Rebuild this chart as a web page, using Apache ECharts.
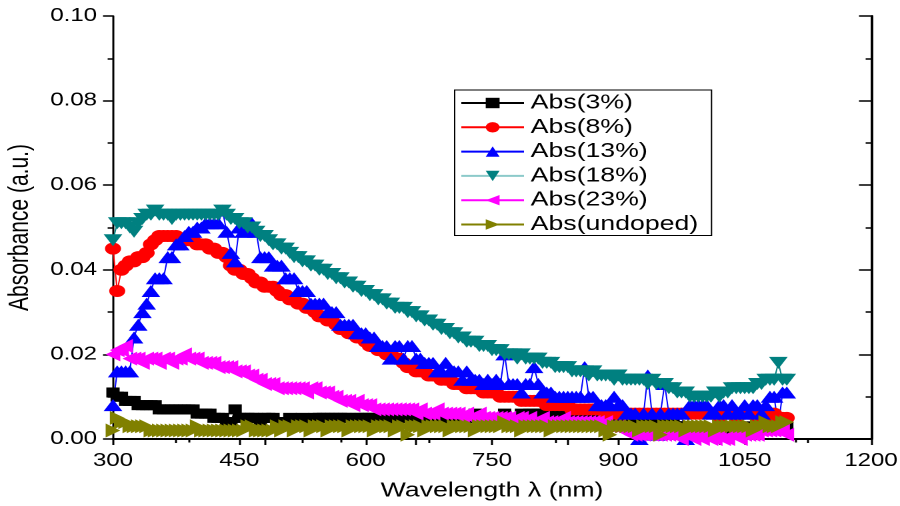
<!DOCTYPE html>
<html>
<head>
<meta charset="utf-8">
<script src="https://cdn.jsdelivr.net/npm/echarts@6.0.0/dist/echarts.min.js"></script>
<style>
  html, body { margin: 0; padding: 0; background: #fff; overflow: hidden; width: 900px; height: 506px; }
  /* chart is laid out at 675px and widened to the 900px page */
  #chart { width: 675px; height: 506px; transform: scaleX(1.3333333); transform-origin: 0 0; }
</style>
</head>
<body>
<div id="chart"></div>
<script>
// Wavelength grid of the spectra (nm), 5 nm sampling from 300 to 1100
const wavelength = [];
for (let w = 300; w <= 1100; w += 5) wavelength.push(w);

// Absorbance (a.u.), one value per wavelength
const abs3 = [
  0.011, 0.010, 0.010, 0.009, 0.009, 0.009, 0.008, 0.008, 0.008, 0.008,
  0.008, 0.007, 0.007, 0.007, 0.007, 0.007, 0.007, 0.007, 0.007, 0.007,
  0.006, 0.006, 0.006, 0.006, 0.005, 0.005, 0.005, 0.004, 0.004, 0.007,
  0.005, 0.005, 0.005, 0.005, 0.005, 0.004, 0.005, 0.005, 0.005, 0.004,
  0.004, 0.004, 0.005, 0.004, 0.004, 0.005, 0.004, 0.004, 0.005, 0.005,
  0.005, 0.005, 0.005, 0.005, 0.005, 0.005, 0.005, 0.004, 0.005, 0.005,
  0.005, 0.005, 0.005, 0.004, 0.005, 0.005, 0.004, 0.005, 0.005, 0.005,
  0.005, 0.005, 0.004, 0.005, 0.005, 0.005, 0.005, 0.005, 0.004, 0.005,
  0.005, 0.005, 0.005, 0.005, 0.005, 0.005, 0.006, 0.005, 0.005, 0.005,
  0.005, 0.005, 0.005, 0.006, 0.005, 0.005, 0.005, 0.006, 0.005, 0.006,
  0.006, 0.006, 0.006, 0.005, 0.006, 0.006, 0.006, 0.006, 0.006, 0.006,
  0.006, 0.006, 0.006, 0.006, 0.006, 0.005, 0.006, 0.006, 0.005, 0.005,
  0.005, 0.005, 0.005, 0.005, 0.004, 0.004, 0.005, 0.004, 0.004, 0.004,
  0.004, 0.004, 0.003, 0.004, 0.003, 0.003, 0.003, 0.002, 0.002, 0.001,
  0.001, 0.001, 0.001, 0.001, 0.001, 0.001, 0.002, 0.002, 0.002, 0.002,
  0.002, 0.003, 0.002, 0.002, 0.003, 0.003, 0.003, 0.003, 0.003, 0.005,
  0.003
];
const abs8 = [
  0.045, 0.035, 0.040, 0.041, 0.042, 0.042, 0.043, 0.043, 0.044, 0.046,
  0.047, 0.048, 0.048, 0.048, 0.048, 0.048, 0.047, 0.047, 0.047, 0.047,
  0.046, 0.046, 0.046, 0.045, 0.045, 0.044, 0.044, 0.043, 0.041, 0.040,
  0.040, 0.039, 0.039, 0.038, 0.037, 0.037, 0.036, 0.036, 0.036, 0.035,
  0.034, 0.034, 0.033, 0.033, 0.032, 0.032, 0.031, 0.031, 0.030, 0.029,
  0.029, 0.028, 0.028, 0.027, 0.026, 0.026, 0.025, 0.025, 0.024, 0.024,
  0.023, 0.022, 0.022, 0.021, 0.021, 0.020, 0.020, 0.019, 0.019, 0.018,
  0.017, 0.017, 0.016, 0.016, 0.016, 0.015, 0.015, 0.015, 0.014, 0.014,
  0.014, 0.013, 0.013, 0.013, 0.012, 0.012, 0.012, 0.012, 0.011, 0.011,
  0.011, 0.011, 0.010, 0.010, 0.010, 0.010, 0.010, 0.009, 0.009, 0.009,
  0.009, 0.009, 0.009, 0.008, 0.008, 0.008, 0.008, 0.008, 0.008, 0.007,
  0.007, 0.007, 0.007, 0.007, 0.007, 0.007, 0.007, 0.006, 0.007, 0.006,
  0.006, 0.006, 0.006, 0.006, 0.006, 0.006, 0.006, 0.006, 0.006, 0.006,
  0.006, 0.006, 0.006, 0.006, 0.006, 0.006, 0.006, 0.006, 0.006, 0.006,
  0.006, 0.006, 0.006, 0.006, 0.005, 0.006, 0.006, 0.006, 0.005, 0.006,
  0.006, 0.006, 0.006, 0.005, 0.006, 0.006, 0.005, 0.006, 0.005, 0.005,
  0.005
];
const abs13 = [
  0.008, 0.016, 0.016, 0.016, 0.016, 0.024, 0.027, 0.030, 0.032, 0.035,
  0.038, 0.038, 0.038, 0.043, 0.043, 0.046, 0.046, 0.048, 0.049, 0.049,
  0.050, 0.050, 0.051, 0.051, 0.051, 0.051, 0.054, 0.049, 0.044, 0.042,
  0.050, 0.049, 0.049, 0.051, 0.049, 0.043, 0.043, 0.043, 0.041, 0.041,
  0.041, 0.038, 0.038, 0.038, 0.035, 0.035, 0.035, 0.032, 0.032, 0.032,
  0.032, 0.030, 0.030, 0.030, 0.027, 0.027, 0.027, 0.027, 0.025, 0.025,
  0.025, 0.024, 0.024, 0.022, 0.022, 0.022, 0.019, 0.022, 0.022, 0.019,
  0.022, 0.022, 0.019, 0.019, 0.018, 0.018, 0.018, 0.016, 0.016, 0.018,
  0.016, 0.016, 0.016, 0.014, 0.016, 0.014, 0.014, 0.014, 0.013, 0.014,
  0.013, 0.014, 0.013, 0.020, 0.013, 0.013, 0.013, 0.011, 0.013, 0.013,
  0.017, 0.013, 0.011, 0.011, 0.011, 0.010, 0.010, 0.010, 0.010, 0.010,
  0.010, 0.010, 0.017, 0.010, 0.010, 0.008, 0.008, 0.008, 0.008, 0.010,
  0.008, 0.008, 0.006, 0.006, 0.006, 0.000, 0.006, 0.015, 0.006, 0.001,
  0.006, 0.013, 0.006, 0.006, 0.006, 0.006, 0.000, 0.008, 0.008, 0.008,
  0.008, 0.008, 0.006, 0.006, 0.008, 0.008, 0.006, 0.008, 0.006, 0.006,
  0.008, 0.006, 0.008, 0.008, 0.006, 0.008, 0.010, 0.010, 0.003, 0.011,
  0.011
];
const abs18 = [
  0.047, 0.051, 0.051, 0.051, 0.050, 0.049, 0.051, 0.052, 0.053, 0.053,
  0.054, 0.053, 0.053, 0.053, 0.052, 0.053, 0.053, 0.053, 0.053, 0.053,
  0.053, 0.053, 0.053, 0.053, 0.053, 0.053, 0.054, 0.053, 0.052, 0.052,
  0.051, 0.051, 0.050, 0.050, 0.049, 0.048, 0.048, 0.047, 0.046, 0.046,
  0.045, 0.045, 0.044, 0.043, 0.043, 0.042, 0.042, 0.041, 0.041, 0.040,
  0.040, 0.039, 0.039, 0.038, 0.038, 0.037, 0.037, 0.036, 0.036, 0.035,
  0.035, 0.034, 0.034, 0.033, 0.033, 0.032, 0.032, 0.031, 0.031, 0.031,
  0.030, 0.030, 0.029, 0.029, 0.028, 0.028, 0.027, 0.027, 0.026, 0.026,
  0.025, 0.025, 0.024, 0.024, 0.023, 0.023, 0.023, 0.022, 0.022, 0.022,
  0.021, 0.021, 0.021, 0.020, 0.020, 0.020, 0.019, 0.020, 0.019, 0.019,
  0.019, 0.019, 0.018, 0.018, 0.018, 0.017, 0.017, 0.017, 0.017, 0.016,
  0.016, 0.016, 0.016, 0.015, 0.016, 0.015, 0.015, 0.015, 0.015, 0.014,
  0.015, 0.014, 0.014, 0.014, 0.014, 0.014, 0.014, 0.013, 0.014, 0.013,
  0.013, 0.013, 0.012, 0.012, 0.011, 0.011, 0.011, 0.010, 0.010, 0.010,
  0.010, 0.010, 0.010, 0.011, 0.010, 0.011, 0.011, 0.012, 0.012, 0.012,
  0.012, 0.012, 0.012, 0.013, 0.013, 0.014, 0.014, 0.014, 0.018, 0.014,
  0.014
];
const abs23 = [
  0.020, 0.021, 0.021, 0.022, 0.019, 0.019, 0.019, 0.018, 0.019, 0.019,
  0.019, 0.018, 0.019, 0.019, 0.018, 0.019, 0.019, 0.020, 0.019, 0.019,
  0.019, 0.018, 0.018, 0.018, 0.018, 0.017, 0.017, 0.017, 0.017, 0.016,
  0.016, 0.016, 0.015, 0.015, 0.014, 0.014, 0.013, 0.013, 0.013, 0.012,
  0.012, 0.012, 0.012, 0.012, 0.012, 0.012, 0.011, 0.012, 0.012, 0.011,
  0.011, 0.011, 0.010, 0.010, 0.009, 0.009, 0.009, 0.008, 0.009, 0.008,
  0.008, 0.008, 0.007, 0.007, 0.007, 0.007, 0.007, 0.007, 0.007, 0.007,
  0.007, 0.007, 0.006, 0.007, 0.006, 0.006, 0.006, 0.007, 0.006, 0.006,
  0.006, 0.006, 0.006, 0.005, 0.006, 0.005, 0.005, 0.006, 0.005, 0.005,
  0.005, 0.005, 0.005, 0.005, 0.005, 0.004, 0.005, 0.005, 0.004, 0.005,
  0.004, 0.004, 0.005, 0.004, 0.004, 0.004, 0.004, 0.005, 0.004, 0.004,
  0.004, 0.004, 0.004, 0.004, 0.004, 0.004, 0.003, 0.004, 0.003, 0.003,
  0.003, 0.002, 0.002, 0.001, 0.001, 0.001, 0.001, 0.001, 0.001, 0.001,
  0.001, 0.001, 0.001, 0.001, 0.001, 0.000, 0.001, 0.001, 0.000, 0.001,
  0.000, 0.001, 0.000, 0.000, 0.001, 0.000, 0.000, 0.001, 0.001, 0.000,
  0.001, 0.001, 0.001, 0.001, 0.002, 0.002, 0.002, 0.002, 0.002, 0.002,
  0.001
];
const absUndoped = [
  0.002, 0.005, 0.004, 0.004, 0.003, 0.003, 0.003, 0.003, 0.003, 0.002,
  0.002, 0.002, 0.002, 0.002, 0.002, 0.002, 0.002, 0.002, 0.002, 0.002,
  0.003, 0.002, 0.002, 0.002, 0.002, 0.002, 0.002, 0.002, 0.002, 0.002,
  0.002, 0.002, 0.003, 0.003, 0.002, 0.002, 0.002, 0.002, 0.002, 0.003,
  0.002, 0.003, 0.003, 0.002, 0.003, 0.003, 0.003, 0.002, 0.003, 0.003,
  0.003, 0.002, 0.003, 0.003, 0.003, 0.003, 0.002, 0.003, 0.003, 0.003,
  0.003, 0.003, 0.002, 0.003, 0.003, 0.003, 0.003, 0.002, 0.003, 0.003,
  0.001, 0.003, 0.003, 0.003, 0.002, 0.003, 0.003, 0.003, 0.003, 0.003,
  0.002, 0.003, 0.003, 0.003, 0.003, 0.003, 0.002, 0.003, 0.003, 0.003,
  0.003, 0.003, 0.003, 0.004, 0.003, 0.003, 0.003, 0.002, 0.003, 0.003,
  0.003, 0.003, 0.003, 0.003, 0.002, 0.003, 0.003, 0.003, 0.003, 0.003,
  0.003, 0.003, 0.003, 0.003, 0.003, 0.003, 0.003, 0.002, 0.001, 0.003,
  0.003, 0.003, 0.003, 0.003, 0.003, 0.002, 0.003, 0.003, 0.003, 0.003,
  0.001, 0.003, 0.003, 0.003, 0.003, 0.003, 0.002, 0.003, 0.003, 0.003,
  0.003, 0.003, 0.003, 0.002, 0.003, 0.003, 0.003, 0.003, 0.003, 0.003,
  0.003, 0.003, 0.002, 0.003, 0.003, 0.004, 0.003, 0.003, 0.003, 0.004,
  0.004
];

const FONT = 'Liberation Sans, Arial, sans-serif';

const seriesDefs = [
  { name: 'Abs(3%)',      values: abs3,       color: '#000000', legendLine: '#000000', symbol: 'rect',     size: 10 },
  { name: 'Abs(8%)',      values: abs8,       color: '#ff0000', legendLine: '#ff0000', symbol: 'circle',   size: 12 },
  { name: 'Abs(13%)',     values: abs13,      color: '#0000ff', legendLine: '#0000ff', symbol: 'triangle', size: [14, 12] },
  { name: 'Abs(18%)',     values: abs18,      color: '#008080', legendLine: '#8ccaca', symbol: 'path://M0,0L10,0L5,9Z', size: [14, 12] },
  { name: 'Abs(23%)',     values: abs23,      color: '#ff00ff', legendLine: '#ff00ff', symbol: 'path://M9,0L9,10L0,5Z', size: [11, 14] },
  { name: 'Abs(undoped)', values: absUndoped, color: '#808000', legendLine: '#808000', symbol: 'path://M0,0L0,10L9,5Z', size: [11, 14] }
];

const series = seriesDefs.map(d => ({
  name: d.name,
  type: 'line',
  data: d.values.map((v, i) => [wavelength[i], v]),
  symbol: d.symbol,
  symbolSize: d.size,
  showAllSymbol: true,
  itemStyle: { color: d.color },
  lineStyle: { color: d.color, width: 1 },
  emphasis: { disabled: true },
  animation: false
}));

const chart = echarts.init(document.getElementById('chart'), null, { renderer: 'canvas', devicePixelRatio: 2 });

const valueAxisBase = {
  type: 'value',
  splitLine: { show: false }
};

chart.setOption({
  backgroundColor: '#ffffff',
  animation: false,
  textStyle: { fontFamily: FONT },
  grid: { left: 84.75, right: 21.75, top: 16, bottom: 67, outerBoundsMode: 'none' },
  legend: {
    orient: 'vertical',
    left: 341,
    top: 90,
    padding: [3, 10, 1, 4],
    itemWidth: 47,
    itemHeight: 13,
    itemGap: 4.3,
    borderColor: '#000',
    borderWidth: 1,
    selectedMode: false,
    textStyle: { fontFamily: FONT, fontSize: 20, color: '#000' },
    data: seriesDefs.map(d => ({ name: d.name, lineStyle: { color: d.legendLine } }))
  },
  xAxis: [
    Object.assign({}, valueAxisBase, {
      position: 'bottom',
      min: 300, max: 1200, interval: 150,
      name: 'Wavelength \u03bb (nm)',
      nameLocation: 'middle',
      nameGap: 42,
      nameTextStyle: { fontFamily: FONT, fontSize: 20, color: '#000' },
      axisLine: { lineStyle: { color: '#000', width: 2 } },
      axisTick: { inside: false, length: 6, lineStyle: { color: '#000', width: 1.5 } },
      minorTick: { show: true, splitNumber: 2, length: 4, lineStyle: { color: '#000', width: 1.5 } },
      axisLabel: { margin: 13, fontFamily: FONT, fontSize: 18, color: '#000', formatter: v => String(v) }
    }),
    Object.assign({}, valueAxisBase, {
      position: 'top',
      min: 0, max: 5, interval: 1,
      axisLine: { lineStyle: { color: '#000', width: 1.5 } },
      axisTick: { inside: true, length: 6, lineStyle: { color: '#000', width: 1.5 } },
      minorTick: { show: true, splitNumber: 2, length: 3.5, lineStyle: { color: '#000', width: 1.5 } },
      axisLabel: { show: false }
    })
  ],
  yAxis: [
    Object.assign({}, valueAxisBase, {
      position: 'left',
      min: 0, max: 0.1, interval: 0.02,
      name: 'Absorbance (a.u.)',
      nameLocation: 'middle',
      nameGap: 59,
      nameTextStyle: { fontFamily: FONT, fontSize: 21, color: '#000' },
      axisLine: { lineStyle: { color: '#000', width: 1.5 } },
      axisTick: { inside: false, length: 7.5, lineStyle: { color: '#000', width: 1.5 } },
      minorTick: { show: true, splitNumber: 2, length: 4, lineStyle: { color: '#000', width: 1.5 } },
      axisLabel: { margin: 12, fontFamily: FONT, fontSize: 18, color: '#000', formatter: v => v.toFixed(2) }
    }),
    Object.assign({}, valueAxisBase, {
      position: 'right',
      min: 0, max: 0.1, interval: 0.02,
      axisLine: { lineStyle: { color: '#000', width: 2 } },
      axisTick: { inside: true, length: 9, lineStyle: { color: '#000', width: 1.5 } },
      minorTick: { show: true, splitNumber: 2, length: 4, lineStyle: { color: '#000', width: 1.5 } },
      axisLabel: { show: false }
    })
  ],
  series: series
});
</script>
</body>
</html>
